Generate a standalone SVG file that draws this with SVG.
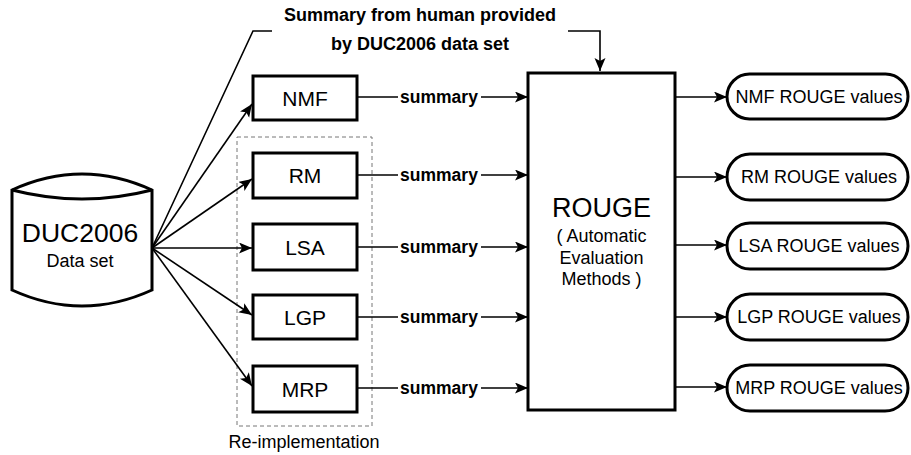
<svg xmlns="http://www.w3.org/2000/svg" width="911" height="455" viewBox="0 0 911 455">
<defs>
<marker id="ah" markerUnits="userSpaceOnUse" markerWidth="14" markerHeight="12" refX="13" refY="5.5" orient="auto">
<path d="M0,0 L13,5.5 L0,11 L3,5.5 z" fill="#000"/>
</marker>
<style>
.box{fill:#fff;stroke:#000;stroke-width:3}
.ln{fill:none;stroke:#000;stroke-width:1.6}
.arr{fill:none;stroke:#000;stroke-width:1.6;marker-end:url(#ah)}
.t{font-family:"Liberation Sans",Arial,sans-serif;fill:#000;text-anchor:middle}
.b{font-weight:bold}
</style>
</defs>
<rect width="911" height="455" fill="#fff"/>

<g id="reimpl-group">
<rect x="237" y="137" width="135" height="289" fill="none" stroke="#777" stroke-width="1" stroke-dasharray="4,3"/>
<text class="t" x="304" y="448" font-size="18">Re-implementation</text>
</g>

<g id="connectors">
<polyline class="ln" points="152,248 253,31 272,31"/>
<line class="arr" x1="152" y1="248" x2="252" y2="104"/>
<line class="arr" x1="152" y1="248" x2="252" y2="179"/>
<line class="arr" x1="152" y1="248" x2="252" y2="248"/>
<line class="arr" x1="152" y1="248" x2="252" y2="315"/>
<line class="arr" x1="152" y1="248" x2="252" y2="386"/>
<polyline class="arr" points="568,31 600,31 600,71"/>
<line class="ln" x1="357" y1="97" x2="398" y2="97"/>
<line class="arr" x1="481" y1="97" x2="528" y2="97"/>
<line class="ln" x1="357" y1="175" x2="398" y2="175"/>
<line class="arr" x1="481" y1="175" x2="528" y2="175"/>
<line class="ln" x1="357" y1="247" x2="398" y2="247"/>
<line class="arr" x1="481" y1="247" x2="528" y2="247"/>
<line class="ln" x1="357" y1="317" x2="398" y2="317"/>
<line class="arr" x1="481" y1="317" x2="528" y2="317"/>
<line class="ln" x1="357" y1="388" x2="398" y2="388"/>
<line class="arr" x1="481" y1="388" x2="528" y2="388"/>
<text class="t b" x="439" y="103" font-size="17.5">summary</text>
<text class="t b" x="439" y="181" font-size="17.5">summary</text>
<text class="t b" x="439" y="253" font-size="17.5">summary</text>
<text class="t b" x="439" y="323" font-size="17.5">summary</text>
<text class="t b" x="439" y="394" font-size="17.5">summary</text>
<line class="arr" x1="675" y1="97" x2="727" y2="97"/>
<line class="arr" x1="675" y1="177" x2="727" y2="177"/>
<line class="arr" x1="675" y1="245" x2="727" y2="245"/>
<line class="arr" x1="675" y1="317" x2="727" y2="317"/>
<line class="arr" x1="675" y1="387" x2="727" y2="387"/>
</g>

<g id="callout">
<text class="t b" x="420" y="21" font-size="18">Summary from human provided</text>
<text class="t b" x="420" y="50" font-size="18">by DUC2006 data set</text>
</g>

<g id="duc2006">
<path d="M12,190 Q82,158 152,190 L152,290 Q82,322 12,290 Z" fill="#fff" stroke="#000" stroke-width="3"/>
<path d="M12,190 Q82,208 152,190" fill="none" stroke="#000" stroke-width="3"/>
<text class="t" x="80" y="242" font-size="26.5">DUC2006</text>
<text class="t" x="80" y="267" font-size="18">Data set</text>
</g>

<g id="nmf"><rect class="box" x="253" y="76" width="104" height="44"/><text class="t" x="305" y="106" font-size="21">NMF</text></g>
<g id="rm"><rect class="box" x="253" y="153" width="104" height="45"/><text class="t" x="305" y="183" font-size="21">RM</text></g>
<g id="lsa"><rect class="box" x="253" y="224" width="104" height="46"/><text class="t" x="305" y="254.5" font-size="21">LSA</text></g>
<g id="lgp"><rect class="box" x="253" y="295" width="104" height="44"/><text class="t" x="305" y="324.5" font-size="21">LGP</text></g>
<g id="mrp"><rect class="box" x="253" y="366" width="104" height="46"/><text class="t" x="305" y="396.5" font-size="21">MRP</text></g>

<g id="rouge">
<rect class="box" x="528" y="73" width="147" height="337"/>
<text class="t" x="601.5" y="217" font-size="27">ROUGE</text>
<text class="t" x="601.5" y="242" font-size="18">( Automatic</text>
<text class="t" x="601.5" y="263.5" font-size="18">Evaluation</text>
<text class="t" x="601.5" y="285" font-size="18">Methods )</text>
</g>

<g id="nmf-out"><rect class="box" x="727" y="74" width="181" height="45" rx="22.5"/><text class="t" x="819" y="102.5" font-size="18">NMF ROUGE values</text></g>
<g id="rm-out"><rect class="box" x="727" y="154" width="181" height="46" rx="23"/><text class="t" x="819" y="183" font-size="18">RM ROUGE values</text></g>
<g id="lsa-out"><rect class="box" x="727" y="223" width="181" height="46" rx="23"/><text class="t" x="819" y="252" font-size="18">LSA ROUGE values</text></g>
<g id="lgp-out"><rect class="box" x="727" y="294" width="181" height="46" rx="23"/><text class="t" x="819" y="323" font-size="18">LGP ROUGE values</text></g>
<g id="mrp-out"><rect class="box" x="727" y="365" width="181" height="46" rx="23"/><text class="t" x="819" y="394" font-size="18">MRP ROUGE values</text></g>
</svg>
